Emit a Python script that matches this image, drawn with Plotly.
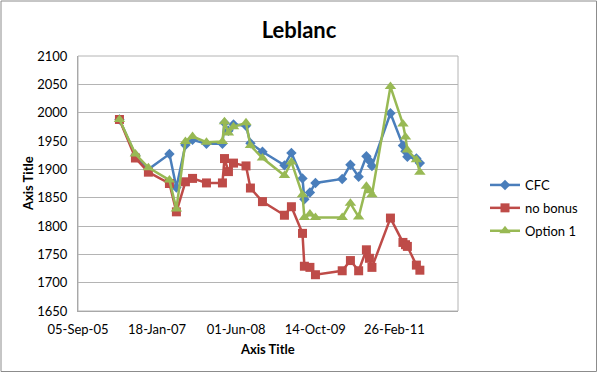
import plotly.graph_objects as go

dates = ["2006-05-25", "2006-09-03", "2006-11-24", "2007-04-06", "2007-05-20",
         "2007-07-16", "2007-08-30", "2007-11-26", "2008-03-06", "2008-03-19",
         "2008-04-13", "2008-05-15", "2008-08-02", "2008-08-30", "2008-11-14",
         "2009-04-02", "2009-05-16", "2009-07-25", "2009-08-06", "2009-09-10",
         "2009-10-15", "2010-04-02", "2010-05-24", "2010-07-15", "2010-09-02",
         "2010-09-21", "2010-10-07", "2011-02-01", "2011-04-21", "2011-05-07",
         "2011-05-19", "2011-07-15", "2011-08-06"]

cfc = [1988, 1925, 1900, 1927, 1868, 1943, 1952, 1945, 1945, 1982,
       1968, 1979, 1977, 1946, 1931, 1907, 1929, 1884, 1847, 1859,
       1876, 1883, 1908, 1887, 1923, 1915, 1906, 1999, 1942, 1932,
       1922, 1919, 1911]

no_bonus = [1988, 1920, 1895, 1875, 1825, 1878, 1884, 1876, 1876, 1919,
            1896, 1911, 1906, 1867, 1843, 1819, 1834, 1787, 1729, 1727,
            1714, 1721, 1739, 1721, 1758, 1743, 1727, 1814, 1771, 1767,
            1764, 1731, 1722]

option1 = [1988, 1927, 1903, 1881, 1830, 1949, 1958, 1948, 1949, 1984,
           1964, 1975, 1982, 1942, 1920, 1889, 1913, 1855, 1815, 1821,
           1815, 1815, 1840, 1816, 1870, 1862, 1855, 2046, 1980, 1957,
           1934, 1917, 1895]

series_names = ["CFC", "no bonus", "Option 1"]
y_ticks = [1650, 1700, 1750, 1800, 1850, 1900, 1950, 2000, 2050, 2100]
chart_title = "Leblanc"
x_title = "Axis Title"
y_title = "Axis Title"

FONT = "Lato, 'Open Sans', sans-serif"

fig = go.Figure()
styles = [
    (cfc, "#4A7EBB", "diamond", 8),
    (no_bonus, "#BE4B48", "square", 9),
    (option1, "#98B954", "triangle-up", 10),
]
for name, (vals, color, sym, size) in zip(series_names, styles):
    fig.add_trace(go.Scatter(
        x=dates, y=vals, name=name, mode="lines+markers",
        line=dict(color=color, width=2.5),
        marker=dict(symbol=sym, size=size, color=color),
        legendgroup=name,
    ))

W, H = 598, 373
L, R, T, B = 78, 140, 56, 62
pw, ph = W - L - R, H - T - B


def px_x(px):
    return (px - L) / pw


def px_y(py):
    return 1 - (py - T) / ph


fig.update_layout(
    width=W, height=H,
    margin=dict(l=L, r=R, t=T, b=B, autoexpand=False),
    paper_bgcolor="white", plot_bgcolor="white",
    font=dict(family=FONT, size=13, color="#000000"),
    title=dict(text="<b>" + chart_title + "</b>", x=0.5, xanchor="center",
               y=1 - 30 / H, yanchor="middle",
               font=dict(size=22, family=FONT, color="#000000")),
    showlegend=True,
    legend=dict(x=px_x(485), xanchor="left",
                y=px_y(208), yanchor="middle",
                font=dict(size=13, family=FONT),
                tracegroupgap=3, bgcolor="rgba(0,0,0,0)"),
    xaxis=dict(
        type="date", automargin=False,
        range=["2005-09-05", "2012-04-03"],
        tick0="2005-09-05", dtick=500 * 86400000,
        tickformat="%d-%b-%y",
        showgrid=False, showline=True, linecolor="#a8a8a8", linewidth=1,
        ticks="", ticklabelstandoff=6,
        tickfont=dict(size=13, color="#000000"),
        zeroline=False,
    ),
    yaxis=dict(
        automargin=False,
        range=[1650, 2100],
        tickvals=y_ticks,
        showgrid=True, gridcolor="#b4b4b4", gridwidth=1,
        showline=True, linecolor="#a8a8a8", linewidth=1,
        ticks="", ticklabelstandoff=7,
        tickfont=dict(size=13, color="#000000"),
        zeroline=False,
    ),
)

fig.add_annotation(text="<b>" + x_title + "</b>", xref="paper", yref="paper",
                   x=px_x(267), y=px_y(349), xanchor="center", yanchor="middle",
                   showarrow=False, font=dict(size=13, family=FONT))
fig.add_annotation(text="<b>" + y_title + "</b>", xref="paper", yref="paper",
                   x=px_x(28), y=px_y(184), xanchor="center", yanchor="middle",
                   textangle=-90, showarrow=False, font=dict(size=13, family=FONT))

# outer chart border
fig.add_shape(type="rect", xref="paper", yref="paper",
              x0=px_x(1), x1=px_x(596.5),
              y0=px_y(371.5), y1=px_y(1),
              line=dict(color="#8c8c8c", width=1))
# plot area top/right border
fig.add_shape(type="rect", xref="paper", yref="paper", x0=0, x1=1, y0=0, y1=1,
              line=dict(color="#b4b4b4", width=1), layer="below")

fig.write_html(
    "out.html",
    config={"displayModeBar": False},
    post_script="document.body.style.margin='0';document.body.style.padding='0';",
)
